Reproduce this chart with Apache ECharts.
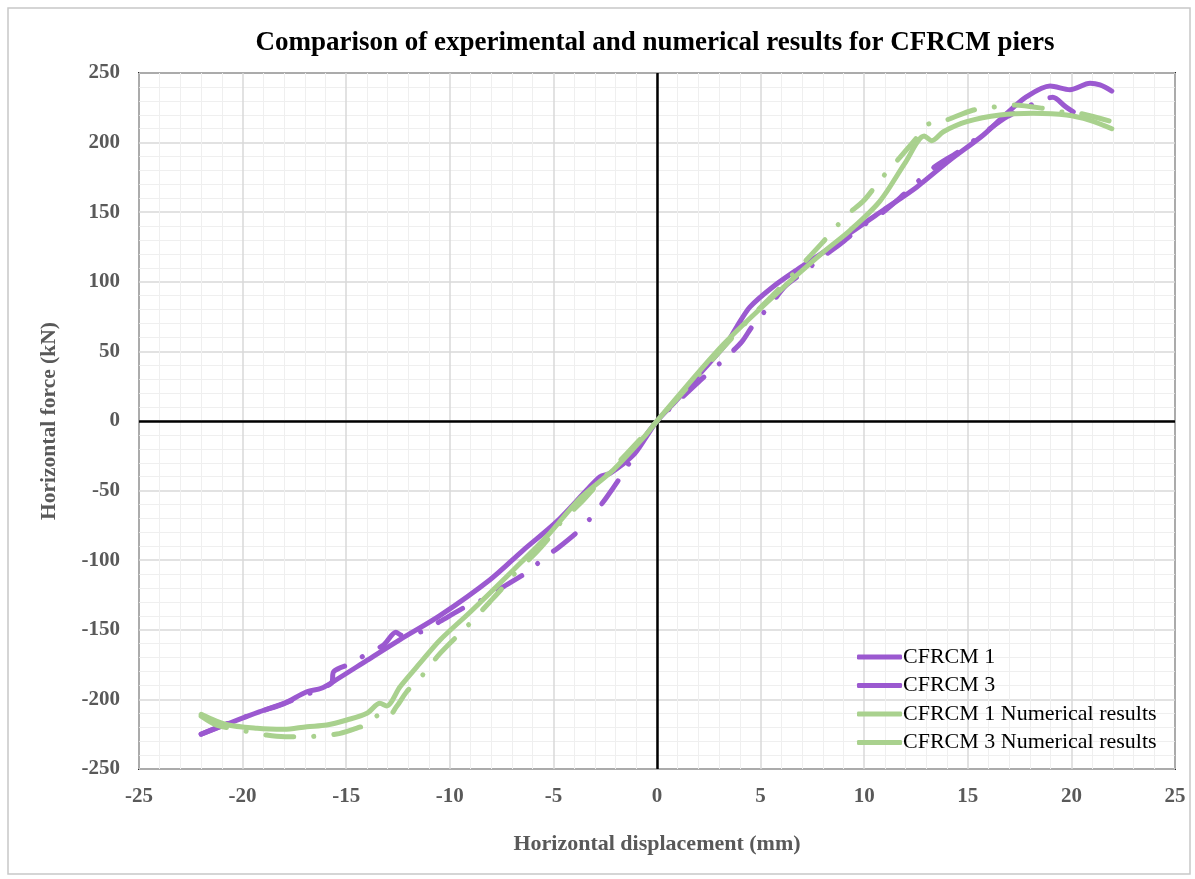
<!DOCTYPE html>
<html>
<head>
<meta charset="utf-8">
<script src="https://cdn.jsdelivr.net/npm/echarts@6/dist/echarts.min.js"></script>
<style>
  html, body { margin: 0; padding: 0; background: #fff; }
  #chart { width: 1195px; height: 879px; }
</style>
</head>
<body>
<div id="chart"></div>
<script>
// values: [displacement mm, force kN]
var cfrcm1 = [
  [-22, -225], [-20.8, -218], [-19.2, -209], [-18, -203], [-16.9, -194.5], [-16.2, -192],
  [-15.6, -187], [-14, -172], [-12.4, -157], [-10.5, -140], [-8.06, -114], [-6.45, -92.7],
  [-4.84, -72.3], [-3.39, -49.6], [-2.75, -40], [-2.27, -37.6], [-1.14, -24.4], [-0.5, -11],
  [0, 0], [0.95, 15], [2.07, 34], [3.36, 55.8], [3.85, 67.7], [4.49, 82], [5.6, 96.5],
  [6.74, 108.5], [8.19, 122.8], [9.32, 135], [10.93, 151.6], [12.53, 168], [14.14, 187.5],
  [15.75, 205.5], [16.88, 221], [17.84, 233], [18.97, 240.7], [19.93, 238], [20.9, 242.6],
  [21.38, 241.4], [21.95, 237]
];
var cfrcm3 = [
  [-22, -225], [-20.5, -216], [-19, -208], [-17.5, -200], [-16.2, -192], [-15.7, -188],
  [-15.6, -180], [-14.66, -173.6], [-13.93, -166.4], [-13.2, -161], [-12.6, -151.8],
  [-12.3, -154], [-11.3, -151], [-10.47, -144], [-9.18, -133], [-8.2, -127], [-7.4, -119],
  [-6.1, -107], [-5.5, -98.7], [-4.78, -91.2], [-3.57, -76], [-3, -65.8], [-2.43, -54.8],
  [-1.54, -35.2], [-0.7, -14], [0, 0], [1, 14], [2, 28], [3, 41], [3.5, 48], [4.1, 57],
  [4.6, 68], [5.5, 84], [6.2, 97], [7, 106], [8.1, 119], [9, 129], [10, 141], [11, 151],
  [12, 164], [13.35, 182], [14.5, 193], [15.8, 207], [16.9, 218.6], [18.2, 228],
  [19.1, 232.5], [19.7, 226], [20.1, 222]
];
var cfrcm1Num = [
  [-22, -210.7], [-20.8, -218], [-19.3, -220.8], [-18, -221.5], [-16.9, -219.6],
  [-15.94, -218.4], [-14.97, -214.8], [-14, -210], [-13.37, -202.8], [-13.05, -204.7],
  [-12.4, -190.9], [-11.44, -174], [-10.47, -157.3], [-9, -137], [-6.93, -107], [-5.32, -83],
  [-3.71, -55.5], [-2.1, -35], [-0.66, -12], [0, 0], [3.2, 55], [6.1, 96], [8, 121],
  [9.32, 137], [10.76, 158], [12, 186], [12.9, 204.7], [13.26, 201.4], [13.82, 207.8],
  [14.95, 215], [16.55, 219.8], [18.16, 221], [19.77, 219.8], [20.9, 216], [21.95, 210]
];
var cfrcm3Num = [
  [-22, -212], [-21.25, -218.5], [-20.45, -221], [-18.84, -225.6], [-17.95, -226.8],
  [-17.07, -226.8], [-15.46, -224.9], [-14.66, -221.5], [-13.85, -217], [-13.4, -211],
  [-13.05, -213.6], [-12.56, -205], [-12.08, -194.5], [-11.44, -184.8], [-10.47, -166.9],
  [-9.18, -147.7], [-8.06, -129.8], [-7.5, -120.7], [-6.93, -110.6], [-5.8, -93.9],
  [-5.2, -83.8], [-4.68, -73.5], [-3.55, -56.8], [-2.9, -46], [-1.5, -24], [0, 0], [2, 33],
  [4.49, 73.8], [5.6, 90.5], [6.26, 100.6], [6.9, 110.8], [7.95, 127.6], [8.51, 137],
  [9.16, 148], [9.96, 158], [10.84, 174.4], [11.4, 183.9], [12.45, 201.9], [12.98, 212.6],
  [13.74, 215], [15.27, 223.4], [16.15, 225.3], [17.04, 227], [18.64, 224.6], [19.53, 222],
  [20.41, 221], [21.95, 215]
];
var seriesNames = ['CFRCM 1', 'CFRCM 3', 'CFRCM 1 Numerical results', 'CFRCM 3 Numerical results'];

var purple = '#9b59d0';
var green = '#a9d18e';
var dashDot = [28, 20, 0.1, 20];
var serif = '"Liberation Serif", "Times New Roman", serif';

var chart = echarts.init(document.getElementById('chart'));

function makeLine(name, data, color, dashed) {
    return {
        name: name,
        type: 'line',
        data: data,
        showSymbol: false,
        symbol: 'none',
        smooth: 0.3,
        lineStyle: {
            color: color,
            width: 5,
            type: dashed ? dashDot : 'solid',
            cap: 'round',
            join: 'round'
        },
        itemStyle: { color: color },
        z: 3
    };
}

var series = [
    makeLine(seriesNames[0], cfrcm1, purple, false),
    makeLine(seriesNames[1], cfrcm3, purple, true),
    makeLine(seriesNames[2], cfrcm1Num, green, false),
    makeLine(seriesNames[3], cfrcm3Num, green, true)
];
// black lines through zero
series[0].markLine = {
    silent: true,
    symbol: 'none',
    label: { show: false },
    lineStyle: { color: '#000', width: 2.5, type: 'solid', cap: 'butt' },
    data: [{ xAxis: 0 }, { yAxis: 0 }],
    z: 2
};

var labelStyle = { fontFamily: serif, fontSize: 21, fontWeight: 'bold', color: '#595959' };

var option = {
    animation: false,
    backgroundColor: '#fff',
    title: {
        text: 'Comparison of experimental and numerical results for CFRCM piers',
        left: 650,
        textAlign: 'center',
        top: 25,
        textStyle: { fontFamily: serif, fontSize: 27, fontWeight: 'bold', color: '#000' }
    },
    graphic: [{
        type: 'rect',
        shape: { x: 8, y: 8, width: 1182, height: 866 },
        style: { fill: 'none', stroke: '#c8c8c8', lineWidth: 1.5 },
        silent: true
    }],
    legend: {
        orient: 'vertical',
        left: 857,
        top: 646,
        padding: 0,
        icon: 'roundRect',
        itemWidth: 45,
        itemHeight: 5,
        itemGap: 6.5,
        data: seriesNames,
        textStyle: { fontFamily: serif, fontSize: 22, color: '#000', padding: [0, 0, 0, -4], lineHeight: 22 }
    },
    grid: {
        left: 139, top: 73, width: 1036, height: 696,
        show: true, borderColor: '#262626', borderWidth: 2, backgroundColor: 'transparent'
    },
    xAxis: {
        type: 'value',
        min: -25, max: 25, interval: 5,
        name: 'Horizontal displacement (mm)',
        nameLocation: 'middle',
        nameGap: 64,
        nameTextStyle: { fontFamily: serif, fontSize: 22, fontWeight: 'bold', color: '#595959' },
        axisLine: { show: false, onZero: false },
        axisTick: { show: false },
        axisLabel: Object.assign({ margin: 17 }, labelStyle),
        splitLine: { show: true, lineStyle: { color: '#d9d9d9', width: 1.5 } },
        minorTick: { show: false, splitNumber: 5 },
        minorSplitLine: { show: true, lineStyle: { color: '#efefef', width: 1 } }
    },
    yAxis: {
        type: 'value',
        min: -250, max: 250, interval: 50,
        name: 'Horizontal force (kN)',
        nameLocation: 'middle',
        nameGap: 79,
        nameTextStyle: { fontFamily: serif, fontSize: 21.5, fontWeight: 'bold', color: '#595959' },
        axisLine: { show: false, onZero: false },
        axisTick: { show: false },
        axisLabel: Object.assign({ margin: 19 }, labelStyle),
        splitLine: { show: true, lineStyle: { color: '#d9d9d9', width: 1.5 } },
        minorTick: { show: false, splitNumber: 5 },
        minorSplitLine: { show: true, lineStyle: { color: '#efefef', width: 1 } }
    },
    series: series
};
chart.setOption(option);
</script>
</body>
</html>
